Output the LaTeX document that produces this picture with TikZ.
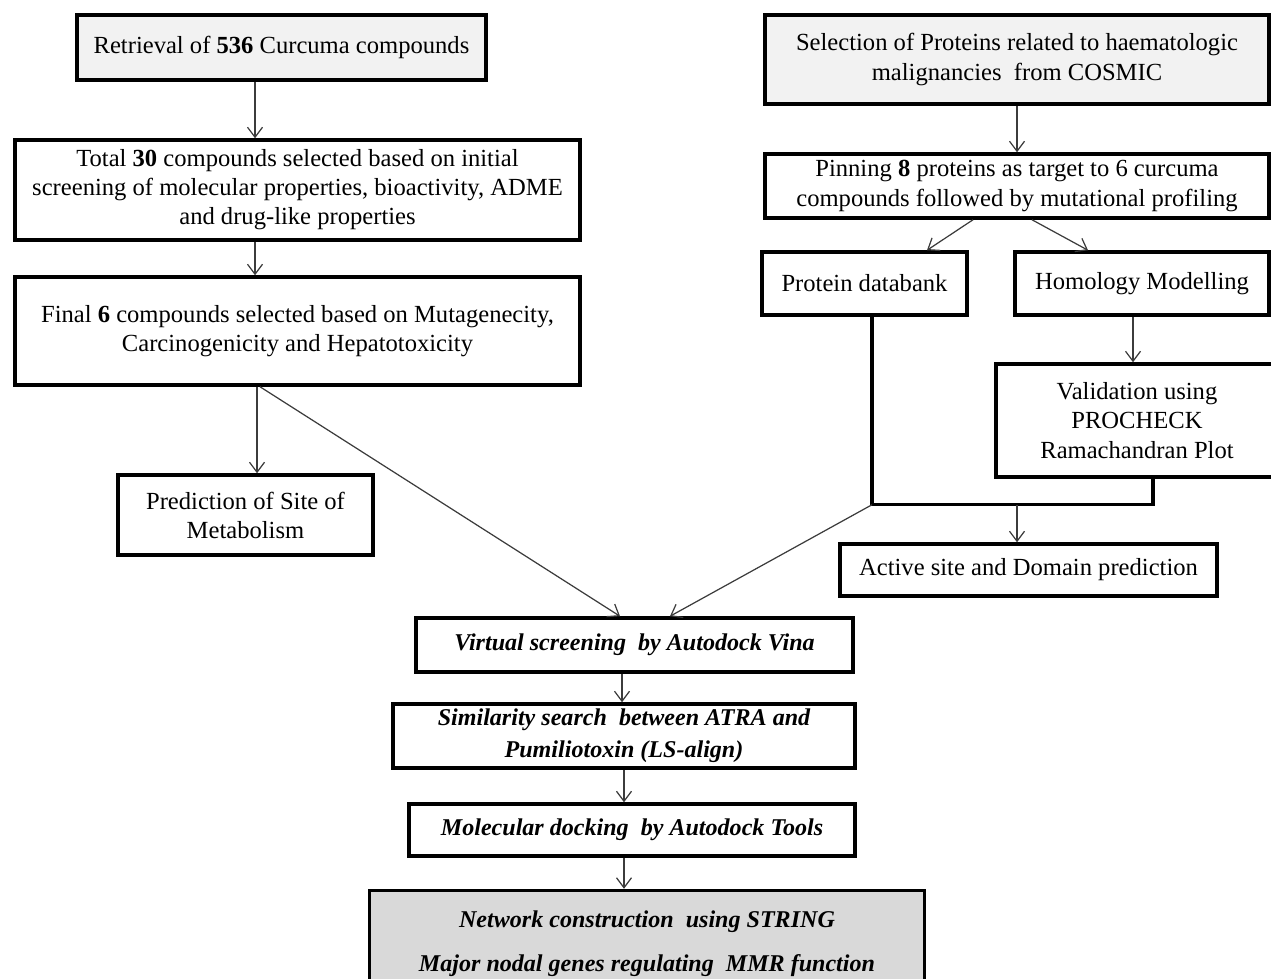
\documentclass[tikz,border=0pt]{standalone}
\usepackage{fontspec}
\setmainfont{Liberation Serif}
\usetikzlibrary{positioning, arrows.meta}
\definecolor{PaleGray}{RGB}{242, 242, 242}
\definecolor{MidGray}{RGB}{217, 217, 217}
\definecolor{LineGray}{RGB}{60, 60, 60}

\begin{document}
\begin{tikzpicture}[x=0.02cm, y=-0.02cm,
    box/.style={draw=black, line width=2pt, fill=white, align=center,
        inner sep=0pt, font=\fontsize{14}{16.5}\selectfont},
    greybox/.style={box, fill=PaleGray},
    rbox/.style={box, font=\fontsize{14}{17}\selectfont},
    ibox/.style={box, font=\fontsize{13.7}{18}\selectfont\bfseries\itshape},
    flow/.style={draw=LineGray, line width=0.7pt,
        -{Straight Barb[length=2mm, width=3mm]}},
    merge/.style={draw=black, line width=2pt}]
    % Marco de la figura
    \useasboundingbox (0,0) rectangle (1271,978);

    % Columna izquierda: compuestos
    \node[greybox, minimum width=8.18cm, minimum height=1.30cm] (retrieval) at (281.5,47.5)
        {Retrieval of \textbf{536} Curcuma compounds};
    \node[box, minimum width=11.30cm, minimum height=2.00cm] (total) at (297.5,190)
        {Total \textbf{30} compounds selected based on initial\\
         screening of molecular properties, bioactivity, ADME\\
         and drug-like properties};
    \node[box, minimum width=11.30cm, minimum height=2.16cm] (final) at (297.5,331)
        {Final \textbf{6} compounds selected based on Mutagenecity,\\
         Carcinogenicity and Hepatotoxicity};
    \node[box, minimum width=5.10cm, minimum height=1.60cm] (metab) at (245.5,515)
        {Prediction of Site of\\ Metabolism};

    % Columna derecha: proteinas
    \node[greybox, rbox, fill=PaleGray, minimum width=10.08cm, minimum height=1.78cm] (cosmic) at (1017,59.5)
        {Selection of Proteins related to haematologic\\ malignancies~ from COSMIC};
    \node[rbox, minimum width=10.08cm, minimum height=1.28cm] (pinning) at (1017,186)
        {Pinning \textbf{8} proteins as target to 6 curcuma\\
         compounds followed by mutational profiling};
    \node[rbox, minimum width=4.10cm, minimum height=1.26cm] (pdb) at (864.5,283.5)
        {Protein databank};
    \node[rbox, minimum width=5.08cm, minimum height=1.26cm] (homology) at (1142,283.5)
        {Homology Modelling};
    \node[rbox, minimum width=5.64cm, minimum height=2.26cm] (valid) at (1137,420.5)
        {Validation using\\ PROCHECK\\ Ramachandran Plot};
    \node[rbox, minimum width=7.54cm, minimum height=1.04cm] (active) at (1028.5,570)
        {Active site and Domain prediction};

    % Parte central: cribado y red
    \node[ibox, minimum width=8.74cm, minimum height=1.08cm] (vina) at (634.5,645)
        {Virtual screening~ by Autodock Vina};
    \node[ibox, minimum width=9.24cm, minimum height=1.28cm] (similar) at (624,736)
        {Similarity search~ between ATRA and\\ Pumiliotoxin (LS-align)};
    \node[ibox, minimum width=8.92cm, minimum height=1.04cm] (docking) at (632,830)
        {Molecular docking~ by Autodock Tools};
    \node[ibox, fill=MidGray, minimum width=11.10cm, minimum height=2.14cm,
          font=\fontsize{13.7}{25}\selectfont\bfseries\itshape] (string) at (647,944)
        {Network construction~ using STRING\\ Major nodal genes regulating~ MMR function};

    % Union de las dos ramas de proteinas
    \coordinate (join) at ([xshift=0.15cm, yshift=-3.76cm]pdb.south);
    \draw[merge] ([xshift=0.15cm]pdb.south) -- (join) -| ([xshift=0.32cm]valid.south);

    % Flechas
    \draw[flow] ([xshift=-0.53cm]retrieval.south) -- ([xshift=-0.53cm]retrieval.south |- total.north);
    \draw[flow] ([xshift=-0.85cm]total.south) -- ([xshift=-0.85cm]final.north);
    \draw[flow] ([xshift=-0.81cm]final.south) -- ([xshift=-0.81cm]final.south |- metab.north);
    \draw[flow] ([xshift=-0.75cm]final.south) -- ([xshift=-0.29cm]vina.north);
    \draw[flow] (cosmic.south) -- (pinning.north);
    \draw[flow] ([xshift=-0.88cm]pinning.south) -- ([xshift=1.25cm]pdb.north);
    \draw[flow] ([xshift=0.30cm]pinning.south) -- ([xshift=-1.08cm]homology.north);
    \draw[flow] ([xshift=-0.18cm]homology.south) -- ([xshift=-0.18cm]homology.south |- valid.north);
    \draw[flow] (join -| cosmic.south) -- (cosmic.south |- active.north);
    \draw[flow] (join) -- ([xshift=0.71cm]vina.north);
    \draw[flow] ([xshift=-0.25cm]vina.south) -- ([xshift=-0.25cm]vina.south |- similar.north);
    \draw[flow] (similar.south) -- (similar.south |- docking.north);
    \draw[flow] ([xshift=-0.16cm]docking.south) -- ([xshift=-0.16cm]docking.south |- string.north);
\end{tikzpicture}
\end{document}
